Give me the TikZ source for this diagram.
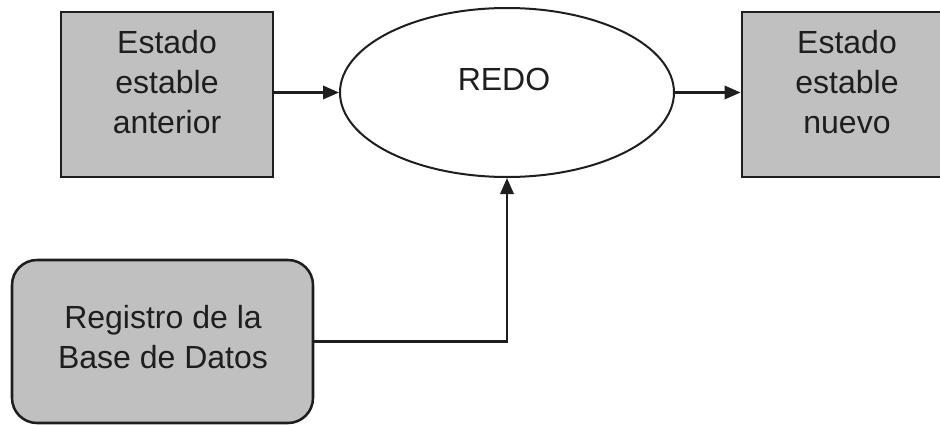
\documentclass[tikz,border=0pt]{standalone}
\usepackage{fontspec}
\setmainfont{Liberation Sans}
\usetikzlibrary{shapes.geometric,arrows.meta}
\definecolor{boxgray}{HTML}{C0C0C0}
\definecolor{inkline}{HTML}{1E1E1E}
\begin{document}
\begin{tikzpicture}[x=0.75pt,y=-0.75pt,
  statebox/.style={draw=inkline,line width=2.1pt,fill=boxgray,rectangle,
    minimum height=123.75pt,inner sep=0pt},
  logbox/.style={draw=inkline,line width=1.9pt,fill=boxgray,rectangle,
    rounded corners=18.75pt,minimum width=225.75pt,minimum height=122.25pt,inner sep=0pt},
  procnode/.style={draw=inkline,line width=1.5pt,fill=white,ellipse,
    minimum width=250.5pt,minimum height=126.75pt,inner sep=0pt},
  lbl/.style={font=\fontsize{24}{30}\selectfont,align=center,text=inkline,inner sep=0pt},
  flow/.style={draw=inkline,line width=1.8pt,-{Triangle[length=12pt,width=10pt]}}]
\useasboundingbox (0,0) rectangle (940,425);
\clip (0,0) rectangle (940,425);

% state boxes and the REDO process
\node[statebox,minimum width=159pt] (prev) at (167,94.5) {};
\node[lbl] (prevtxt) at (167,82) {Estado\\estable\\anterior};
\node[procnode] (redo) at (507,92.5) {};
\node[lbl] (redotxt) at (504,79) {REDO};
\node[statebox,minimum width=157.5pt] (next) at (847,94.5) {};
\node[lbl] (nexttxt) at (847,82) {Estado\\estable\\nuevo};

% database log
\node[logbox] (log) at (162.5,341.5) {};
\node[lbl] (logtxt) at (163,337) {Registro de la\\Base de Datos};

% connectors
\draw[flow] (prev.east |- redo.west) -- (redo.west);
\draw[flow] (redo.east) -- (next.west |- redo.east);
\draw[flow] (log.east) -| (redo.south);
\end{tikzpicture}
\end{document}
